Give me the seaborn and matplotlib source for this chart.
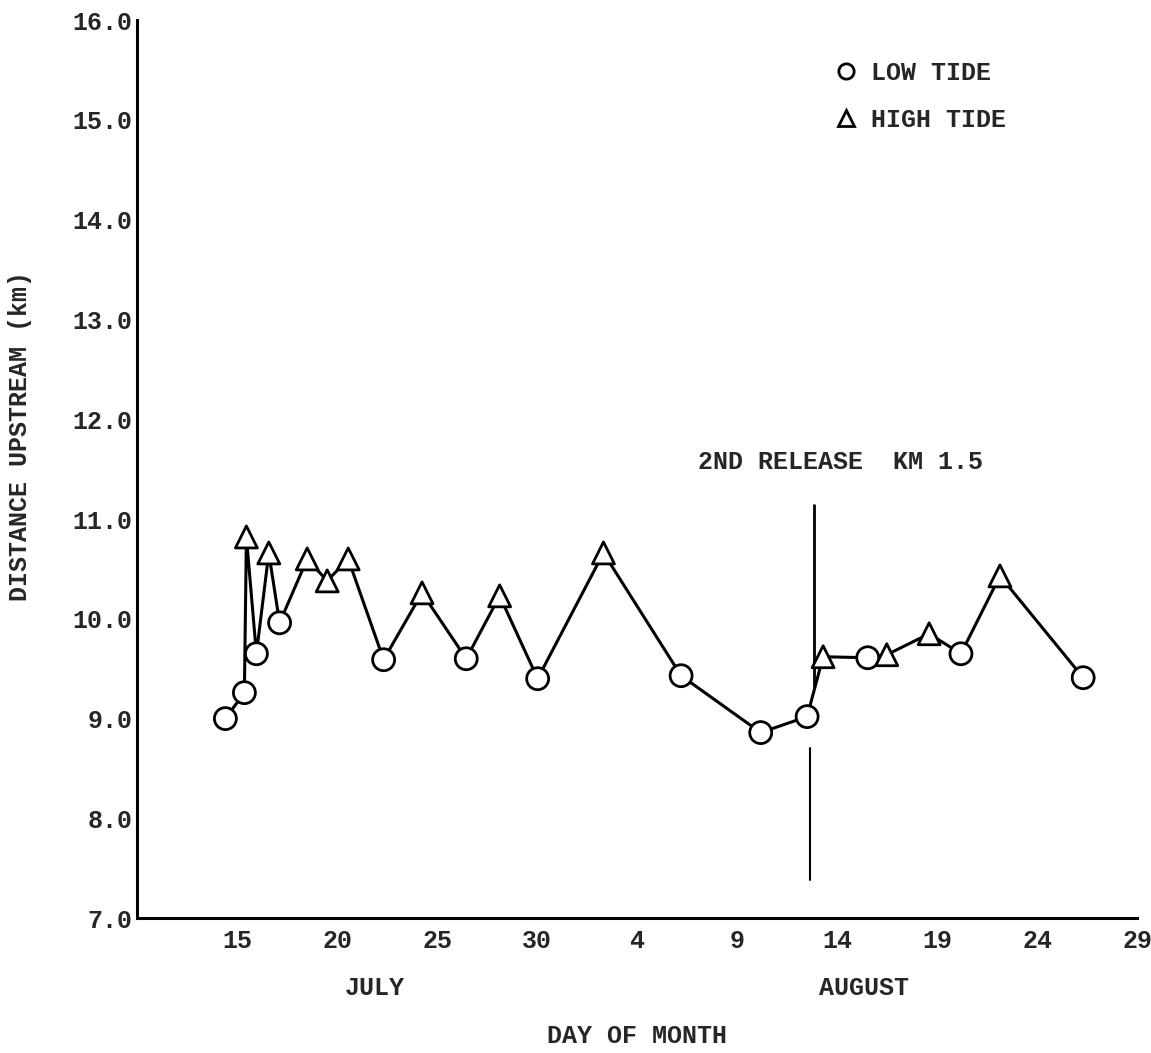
import pandas as pd
import matplotlib.pyplot as plt
import seaborn as sns
from matplotlib.lines import Line2D

# Day number counted from 1 July (1 Aug = 32)
days = [14.42, 15.37, 15.47, 15.97, 16.59, 17.13, 18.51, 19.51, 20.56, 22.33,
        24.25, 26.46, 28.13, 30.03, 33.32, 37.2, 41.18, 43.5, 44.3, 46.53,
        47.48, 49.6, 51.19, 53.14, 57.3]
distance = [9.00, 9.26, 10.82, 9.65, 10.66, 9.96, 10.60, 10.38, 10.60, 9.59,
            10.26, 9.60, 10.23, 9.40, 10.66, 9.43, 8.86, 9.02, 9.62, 9.61,
            9.64, 9.85, 9.65, 10.43, 9.41]
tide = ['LOW', 'LOW', 'HIGH', 'LOW', 'HIGH', 'LOW', 'HIGH', 'HIGH', 'HIGH', 'LOW',
        'HIGH', 'LOW', 'HIGH', 'LOW', 'HIGH', 'LOW', 'LOW', 'LOW', 'HIGH', 'LOW',
        'HIGH', 'HIGH', 'LOW', 'HIGH', 'LOW']

tick_days = [15, 20, 25, 30, 35, 40, 45, 50, 55, 60]
tick_labels = ['15', '20', '25', '30', '4', '9', '14', '19', '24', '29']
y_ticks = [7, 8, 9, 10, 11, 12, 13, 14, 15, 16]

# second release marker
release_upper = (43.85, 9.33, 11.14)
release_lower = (43.65, 7.38, 8.71)

df = pd.DataFrame({'day': days, 'dist': distance, 'tide': tide})

sns.set_style('white')
plt.rcParams['font.family'] = ['Liberation Mono', 'DejaVu Sans Mono']
plt.rcParams['font.size'] = 18
plt.rcParams['font.weight'] = 'bold'
plt.rcParams['axes.labelweight'] = 'bold'

fig = plt.figure(figsize=(11.51, 10.53), dpi=100)
ax = fig.add_axes([0.119, 0.128, 0.869, 0.853])

sns.lineplot(data=df, x='day', y='dist', sort=False, estimator=None,
             color='black', lw=2.2, ax=ax, zorder=2)
sns.scatterplot(data=df, x='day', y='dist', style='tide',
                markers={'LOW': 'o', 'HIGH': '^'}, s=250, color='white',
                edgecolor='black', linewidth=2, legend=False, ax=ax, zorder=3)

ax.plot([release_upper[0]] * 2, release_upper[1:], color='black', lw=2)
ax.plot([release_lower[0]] * 2, release_lower[1:], color='black', lw=1.5)
ax.text(38.05, 11.57, '2ND RELEASE  KM 1.5', fontsize=18, va='center')

ax.set_xlim(10, 60)
ax.set_ylim(7, 16)
ax.set_xticks(tick_days)
ax.set_xticklabels(tick_labels)
ax.set_yticks(y_ticks)
ax.set_yticklabels([f'{v:.1f}' for v in y_ticks])
ax.tick_params(axis='x', direction='in', length=11, width=1.5, pad=8, labelsize=18)
ax.tick_params(axis='y', direction='in', length=8, width=1.5, pad=3, labelsize=18)

for side in ['top', 'right']:
    ax.spines[side].set_visible(False)
for side in ['left', 'bottom']:
    ax.spines[side].set_linewidth(2.2)
    ax.spines[side].set_color('black')

trans = ax.get_xaxis_transform()
ax.text(21.9, -0.078, 'JULY', transform=trans, ha='center', va='center', fontsize=18)
ax.text(46.35, -0.078, 'AUGUST', transform=trans, ha='center', va='center', fontsize=18)

ax.set_xlabel('DAY OF MONTH', fontsize=18, labelpad=51)
ax.set_ylabel('DISTANCE UPSTREAM (km)', fontsize=18)
ax.yaxis.set_label_coords(-0.105, 0.537)

handles = [
    Line2D([], [], marker='o', ls='none', mfc='white', mec='black', mew=2, ms=11),
    Line2D([], [], marker='^', ls='none', mfc='white', mec='black', mew=2, ms=12),
]
ax.legend(handles, ['LOW TIDE', 'HIGH TIDE'], loc='upper left',
          bbox_to_anchor=(0.684, 0.968), frameon=False, fontsize=18,
          handlelength=1.0, handletextpad=0.5, labelspacing=0.9, borderpad=0)

fig.savefig('out.png', dpi=100)
